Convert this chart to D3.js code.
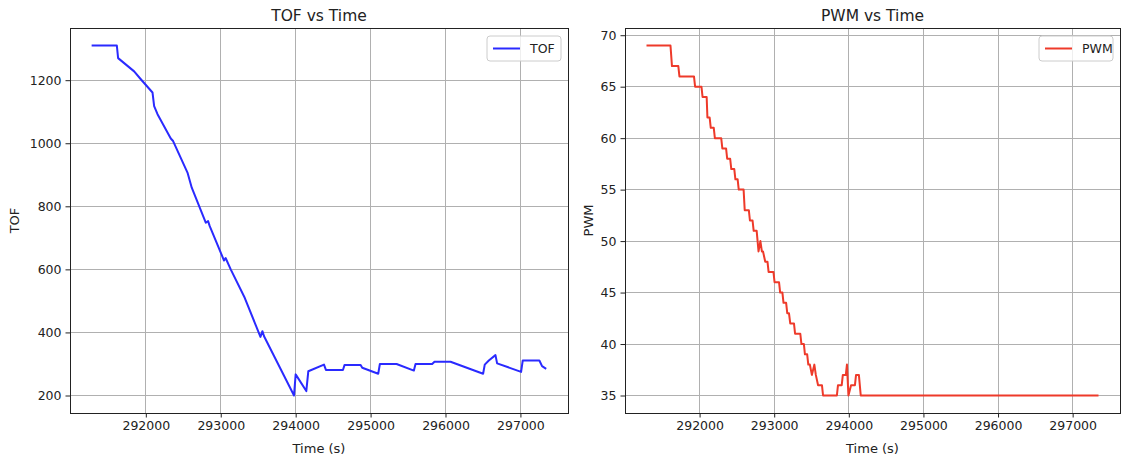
<!DOCTYPE html>
<html>
<head>
<meta charset="utf-8">
<script src="https://cdn.jsdelivr.net/npm/d3@7"></script>
<style>
  html, body { margin: 0; padding: 0; background: #ffffff; }
  svg { display: block; font-family: "DejaVu Sans", sans-serif; }
</style>
</head>
<body>
<svg id="chart" width="1131" height="461"></svg>
<script>
// ---- data ----
const tofTime = [291290, 291613, 291630, 291844, 291933, 292089, 292111, 292156, 292333, 292364,
  292556, 292613, 292800, 292831, 292853, 293044, 293065, 293133, 293320, 293530, 293556, 293578,
  293978, 294000, 294142, 294169, 294378, 294404, 294631, 294653, 294867, 294889, 295102, 295124,
  295347, 295578, 295600, 295822, 295853, 296067, 296502, 296524, 296578, 296667, 296689, 297009,
  297031, 297253, 297289, 297333];
const tofValues = [1310, 1310, 1270, 1228, 1203, 1161, 1118, 1092, 1015, 1007,
  907, 859, 748, 753, 737, 628, 636, 600, 510, 386, 404, 388,
  200, 267, 214, 277, 298, 281, 281, 297, 297, 288, 269, 300,
  300, 279, 300, 300, 307, 307, 269, 298, 311, 328, 302, 275,
  311, 311, 293, 286];

const pwmTime = [291302, 291610, 291630, 291715, 291730, 291925, 291940, 292025, 292040, 292095,
  292105, 292135, 292150, 292190, 292205, 292290, 292305, 292355, 292370, 292410, 292425, 292465,
  292480, 292510, 292525, 292590, 292605, 292660, 292675, 292710, 292725, 292765, 292790, 292815,
  292835, 292850, 292880, 292910, 292925, 292990, 293005, 293065, 293080, 293110, 293125, 293160,
  293175, 293198, 293215, 293265, 293280, 293350, 293365, 293398, 293412, 293442, 293457, 293478,
  293505, 293538, 293558, 293588, 293640, 293655, 293840, 293855, 293905, 293920, 293960, 293975,
  293995, 294030, 294082, 294097, 294135, 294160, 297333];
const pwmValues = [69, 69, 67, 67, 66, 66, 65, 65, 64, 64,
  62, 62, 61, 61, 60, 60, 59, 59, 58, 58, 57, 57,
  56, 56, 55, 55, 53, 53, 52, 52, 51, 51, 49, 50,
  49, 49, 48, 48, 47, 47, 46, 46, 45, 45, 44, 44,
  43, 43, 42, 42, 41, 41, 40, 40, 39, 39, 38, 38,
  37, 38, 37, 36, 36, 35, 35, 36, 36, 37, 37, 38,
  35, 36, 36, 37, 37, 35, 35];

const xTicks = [292000, 293000, 294000, 295000, 296000, 297000];
const tofTicks = [200, 400, 600, 800, 1000, 1200];
const pwmTicks = [35, 40, 45, 50, 55, 60, 65, 70];

// ---- drawing ----
const svg = d3.select("#chart");

function padded(ext) {
  const r = ext[1] - ext[0];
  return [ext[0] - 0.05 * r, ext[1] + 0.05 * r];
}

function panel(opts) {
  const { left, right, top, bottom, times, values, yTicks, color, title, ylabel, legend, ylabelX } = opts;
  const g = svg.append("g");
  const x = d3.scaleLinear().domain(padded(d3.extent(times))).range([left, right]);
  const y = d3.scaleLinear().domain(padded(d3.extent(values))).range([bottom, top]);

  // grid
  g.append("g").selectAll("line.vx").data(xTicks).join("line")
    .attr("x1", d => x(d)).attr("x2", d => x(d)).attr("y1", top).attr("y2", bottom)
    .attr("stroke", "#b0b0b0").attr("stroke-width", 1).attr("shape-rendering", "crispEdges");
  g.append("g").selectAll("line.hy").data(yTicks).join("line")
    .attr("x1", left).attr("x2", right).attr("y1", d => y(d)).attr("y2", d => y(d))
    .attr("stroke", "#b0b0b0").attr("stroke-width", 1).attr("shape-rendering", "crispEdges");

  // line
  const pts = times.map((t, i) => [t, values[i]]);
  g.append("path").datum(pts)
    .attr("d", d3.line().x(d => x(d[0])).y(d => y(d[1])))
    .attr("fill", "none").attr("stroke", color).attr("stroke-width", 2)
    .attr("stroke-linejoin", "round").attr("stroke-linecap", "square");

  // axes
  const xAxis = g.append("g").attr("transform", `translate(0,${bottom})`)
    .call(d3.axisBottom(x).tickValues(xTicks).tickFormat(d3.format("d")).tickSize(4.5).tickPadding(4));
  const yAxis = g.append("g").attr("transform", `translate(${left},0)`)
    .call(d3.axisLeft(y).tickValues(yTicks).tickFormat(d3.format("d")).tickSize(4.5).tickPadding(4));
  [xAxis, yAxis].forEach(a => {
    a.select(".domain").remove();
    a.selectAll("text").attr("font-size", "12.5px").attr("fill", "#222").attr("font-family", "DejaVu Sans, sans-serif");
    a.selectAll("line").attr("stroke", "#222");
  });

  // frame
  g.append("rect").attr("x", left).attr("y", top).attr("width", right - left).attr("height", bottom - top)
    .attr("fill", "none").attr("stroke", "#222").attr("stroke-width", 1).attr("shape-rendering", "crispEdges");

  // title & labels
  g.append("text").attr("x", (left + right) / 2).attr("y", top - 7).attr("text-anchor", "middle")
    .attr("font-size", "15.5px").attr("fill", "#222").text(title);
  g.append("text").attr("x", (left + right) / 2).attr("y", 453).attr("text-anchor", "middle")
    .attr("font-size", "13px").attr("fill", "#222").text("Time (s)");
  g.append("text").attr("transform", `translate(${ylabelX},${(top + bottom) / 2}) rotate(-90)`)
    .attr("text-anchor", "middle").attr("font-size", "13px").attr("fill", "#222").text(ylabel);

  // legend
  const lw = legend.length > 3 ? 80 : 74;
  const lx = right - 7 - lw, ly = top + 8;
  g.append("rect").attr("x", lx).attr("y", ly).attr("width", lw).attr("height", 25).attr("rx", 3)
    .attr("fill", "white").attr("fill-opacity", 0.8).attr("stroke", "#cccccc");
  g.append("line").attr("x1", lx + 6).attr("x2", lx + 33).attr("y1", ly + 12.5).attr("y2", ly + 12.5)
    .attr("stroke", color).attr("stroke-width", 2);
  g.append("text").attr("x", lx + 43).attr("y", ly + 17).attr("font-size", "12.5px").attr("fill", "#222").text(legend);
}

panel({ left: 70, right: 568, top: 28, bottom: 413, times: tofTime, values: tofValues,
  yTicks: tofTicks, color: "#2a2aff", title: "TOF vs Time", ylabel: "TOF", legend: "TOF", ylabelX: 19 });
panel({ left: 625, right: 1120, top: 28, bottom: 413, times: pwmTime, values: pwmValues,
  yTicks: pwmTicks, color: "#ee3a2a", title: "PWM vs Time", ylabel: "PWM", legend: "PWM", ylabelX: 593 });
</script>
</body>
</html>
